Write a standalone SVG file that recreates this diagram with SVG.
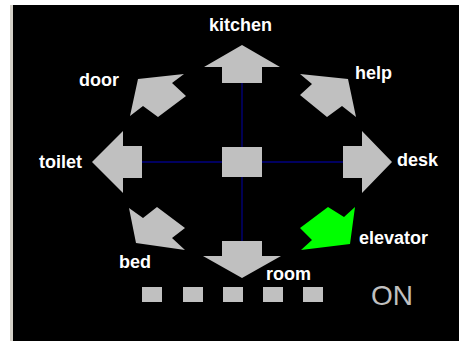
<svg xmlns="http://www.w3.org/2000/svg" width="459" height="341" viewBox="0 0 459 341">
  <style>
    .arrow { fill: #c0c0c0; }
    .active { fill: #00ff00; }
    .label { font-family: "Liberation Sans", Arial, sans-serif; font-weight: bold; font-size: 18px; fill: #ffffff; }
    .status { font-family: "Liberation Sans", Arial, sans-serif; font-size: 28px; fill: #c0c0c0; }
    .link { stroke: #000080; stroke-width: 1.3; fill: none; }
    .dot { fill: #c0c0c0; }
  </style>
  <!-- window frame -->
  <rect x="0" y="0" width="459" height="341" fill="#ffffff"/>
  <rect x="10" y="5" width="3" height="336" fill="#d4d0c8"/>
  <rect x="13" y="5" width="446" height="336" fill="#000000"/>

  <!-- cross lines -->
  <g id="connectors">
    <line class="link" x1="242" y1="83" x2="242" y2="241"/>
    <line class="link" x1="142" y1="162" x2="343" y2="162"/>
  </g>

  <g id="center">
    <rect class="arrow" x="222" y="147" width="40" height="30"/>
  </g>

  <g id="kitchen">
    <polygon class="arrow" points="242,45 280,67 262,67 262,83 222,83 222,67 204,67"/>
    <text class="label" x="209" y="31">kitchen</text>
  </g>

  <g id="room">
    <polygon class="arrow" points="242,278 281,256 262,256 262,241 222,241 222,256 203,256"/>
    <text class="label" x="266" y="280">room</text>
  </g>

  <g id="toilet">
    <polygon class="arrow" points="92,162 123,131 123,146 142,146 142,178 123,178 123,193"/>
    <text class="label" x="39" y="168">toilet</text>
  </g>

  <g id="desk">
    <polygon class="arrow" points="392,162 362,131 362,146 343,146 343,178 362,178 362,193"/>
    <text class="label" x="397" y="166">desk</text>
  </g>

  <g id="door">
    <polygon class="arrow" points="138,79 184,74 172,83 186,96 158,117 143,106 130,116"/>
    <text class="label" x="79" y="86">door</text>
  </g>

  <g id="help">
    <polygon class="arrow" points="348,79 300,74 312,84 300,95 327,117 342,106 356,117"/>
    <text class="label" x="355" y="79">help</text>
  </g>

  <g id="bed">
    <polygon class="arrow" points="136,243 185,250 172,238 185,228 157,207 143,218 129,208"/>
    <text class="label" x="119" y="268">bed</text>
  </g>

  <g id="elevator">
    <polygon class="active" points="350,244 301,250 312,240 300,228 328,207 344,217 355,207"/>
    <text class="label" x="359" y="244">elevator</text>
  </g>

  <g id="progress">
    <rect class="dot" x="142" y="287" width="20" height="15"/>
    <rect class="dot" x="183" y="287" width="20" height="15"/>
    <rect class="dot" x="223" y="287" width="20" height="15"/>
    <rect class="dot" x="263" y="287" width="20" height="15"/>
    <rect class="dot" x="303" y="287" width="20" height="15"/>
  </g>

  <g id="status">
    <text class="status" x="371" y="305">ON</text>
  </g>
</svg>
